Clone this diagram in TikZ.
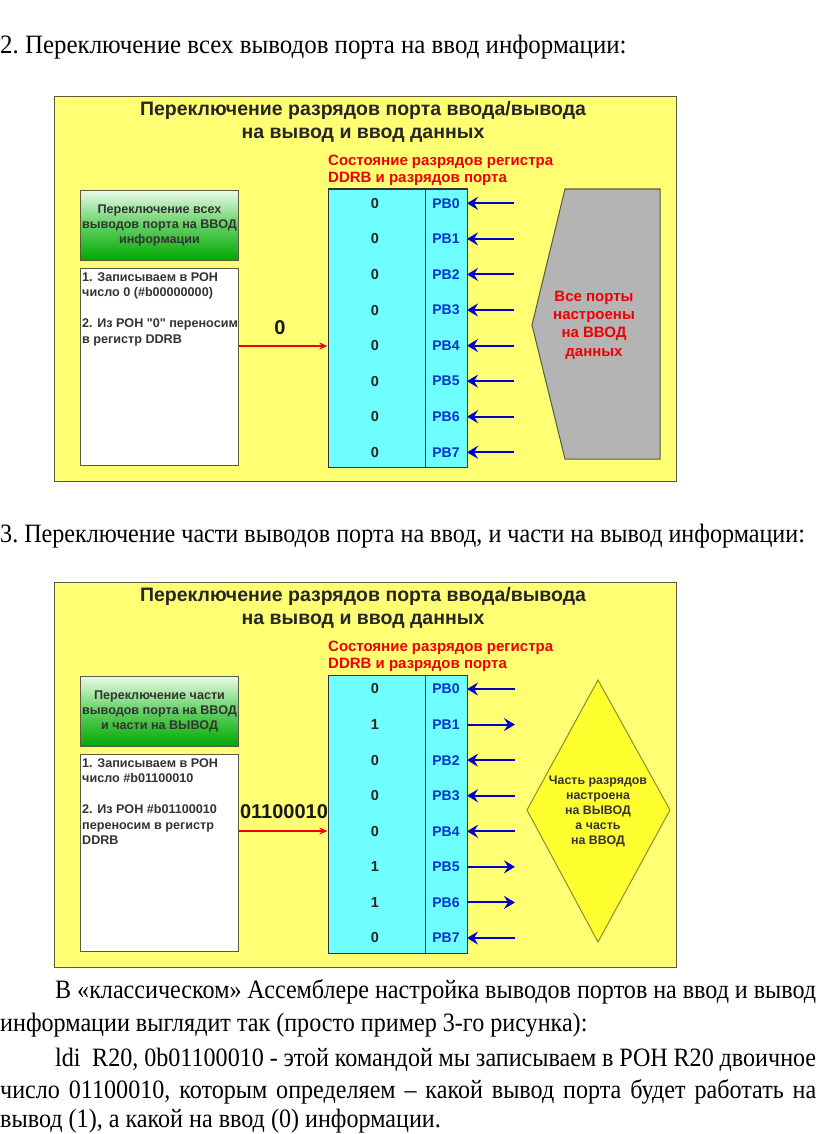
\documentclass[tikz,border=0pt]{standalone}
\usepackage{fontspec}
\setmainfont{Liberation Serif}
\newfontfamily\dsans{Liberation Sans}
\newfontfamily\bodyf[FakeStretch=0.94]{Liberation Serif}
\newfontfamily\bodyn[FakeStretch=0.91]{Liberation Serif}
\usetikzlibrary{arrows.meta}
\definecolor{panelY}{HTML}{FFFF73}
\definecolor{panelB}{HTML}{5A5A3C}
\definecolor{cyanR}{HTML}{6FFFFF}
\definecolor{grayH}{HTML}{B4B4B4}
\definecolor{arrB}{HTML}{0000CC}
\definecolor{pbB}{HTML}{0033CC}
\definecolor{redT}{HTML}{F00000}
\definecolor{greenTop}{HTML}{EAFBEA}
\definecolor{greenMid}{HTML}{60D060}
\definecolor{greenBot}{HTML}{00A800}
\definecolor{darkT}{HTML}{333333}
\definecolor{diaY}{HTML}{FFFF30}
\definecolor{diaB}{HTML}{8C8C30}
\tikzset{
  panelbox/.style={draw=panelB, line width=1.3pt, fill=panelY, inner sep=0pt, anchor=north west, minimum width=622pt, minimum height=385pt},
  titlef/.style={font=\dsans\bfseries\fontsize{19.5}{23}\selectfont, text=black!85, align=center, inner sep=0pt},
  redlab/.style={font=\dsans\bfseries\fontsize{15}{17}\selectfont, text=redT, align=left, inner sep=0pt, anchor=north west},
  greenbox/.style={draw=panelB, line width=1pt, anchor=north west, minimum width=158pt, minimum height=70pt, inner sep=0pt, top color=greenTop, bottom color=greenBot, middle color=greenMid, font=\dsans\bfseries\fontsize{12.6}{15}\selectfont, text=darkT, align=center},
  whitebox/.style={draw=panelB, line width=1pt, fill=white, anchor=north west, minimum width=158pt, minimum height=197pt, inner sep=0pt},
  boxtext/.style={font=\dsans\bfseries\fontsize{12.6}{15.5}\selectfont, text=darkT, align=left, anchor=north west, inner sep=0pt},
  regbox/.style={draw=darkT, line width=1pt, fill=cyanR},
  digit/.style={font=\dsans\bfseries\fontsize{14.5}{16}\selectfont, text=black!85, inner sep=0pt},
  pblab/.style={font=\dsans\bfseries\fontsize{14}{16}\selectfont, text=pbB, inner sep=0pt},
  inarrow/.style={draw=arrB, line width=2pt, -{Stealth[length=11pt,width=13pt,inset=4pt]}},
  redarrow/.style={draw=redT, line width=1.5pt, -{Stealth[length=8pt,width=7pt]}},
  numlab/.style={font=\dsans\bfseries\fontsize{20}{22}\selectfont, text=black!90, inner sep=0pt},
  body/.style={font=\bodyf\fontsize{26.5}{30}\selectfont\frenchspacing, inner sep=0pt, anchor=base west},
  bodyb/.style={font=\bodyn\fontsize{26.5}{30}\selectfont\frenchspacing, inner sep=0pt, anchor=base west},
}
\begin{document}
\begin{tikzpicture}[x=1pt,y=-1pt]
\useasboundingbox (0,0) rectangle (816,1134);
\fill[white] (0,0) rectangle (816,1134);

% ---- body text
\node[body] (l1) at (0,54) {2. Переключение всех выводов порта на ввод информации:};
\node[bodyb] (l2) at (0,542) {3. Переключение части выводов порта на ввод, и части на вывод информации:};
\node[bodyb] (l3) at (55,998) {\makebox[761pt][s]{В «классическом» Ассемблере настройка выводов портов на ввод и вывод}};
\node[bodyb] (l4) at (0,1031) {информации выглядит так (просто пример 3-го рисунка):};
\node[bodyb] (l5) at (55,1066) {\makebox[761pt][s]{ldi\ \ R20, 0b01100010 - этой командой мы записываем в РОН R20 двоичное}};
\node[bodyb] (l6) at (0,1098) {\makebox[816pt][s]{число 01100010, которым определяем – какой вывод порта будет работать на}};
\node[bodyb] (l7) at (0,1127) {вывод (1), а какой на ввод (0) информации.};

% ================= panel 1
\node[panelbox] (p1) at (54,96) {};
\node[titlef] (p1t) at (363,122) {Переключение разрядов порта ввода/вывода\\на вывод и ввод данных};
\node[redlab] (p1r) at (328,155) {Состояние разрядов регистра\\DDRB и разрядов порта};
\node[greenbox] (p1g) at (80,190) {Переключение всех\\выводов порта на ВВОД\\информации};
\node[whitebox] (p1w) at (80,268) {};
\node[boxtext] (p1wt) at (82,272) {1. Записываем в РОН\\число 0 (\#b00000000)\\[15.5pt]2. Из РОН "0" переносим\\в регистр DDRB};
\draw[regbox] (328,189) rectangle (467,467);
\draw[darkT, line width=1pt] (425,189) -- (425,467);
\node[inner sep=0pt] (p1reg) at (328,346) {};
\foreach \i in {0,...,7}{
  \node[digit] (p1d\i) at (375,{203.3+35.57*\i}) {0};
  \node[pblab] (p1pb\i) at (446,{203.3+35.57*\i}) {PB\i};
  \coordinate (p1s\i) at (514,{203.3+35.57*\i});
  \coordinate (p1e\i) at (467,{203.3+35.57*\i});
  \draw[inarrow] (p1s\i) -- (p1e\i);
}
\draw[redarrow] (p1w.east |- p1reg) -- (p1reg);
\node[numlab] (p1n) at (280,328) {0};
\draw[draw=panelB, line width=1pt, fill=grayH] (565,189) -- (660,189) -- (660,459) -- (565,459) -- (532,325) -- cycle;
\node[font=\dsans\bfseries\fontsize{15}{18.3}\selectfont, text=redT, align=center, inner sep=0pt] (p1h) at (594,325) {Все порты\\настроены\\на ВВОД\\данных};

% ================= panel 2
\node[panelbox] (p2) at (54,582) {};
\node[titlef] (p2t) at (363,608) {Переключение разрядов порта ввода/вывода\\на вывод и ввод данных};
\node[redlab] (p2r) at (328,641) {Состояние разрядов регистра\\DDRB и разрядов порта};
\node[greenbox] (p2g) at (80,676) {Переключение части\\выводов порта на ВВОД\\и части на ВЫВОД};
\node[whitebox] (p2w) at (80,754) {};
\node[boxtext] (p2wt) at (82,758) {1. Записываем в РОН\\число \#b01100010\\[15.5pt]2. Из РОН \#b01100010\\переносим в регистр\\DDRB};
\draw[regbox] (328,675) rectangle (467,953);
\draw[darkT, line width=1pt] (425,675) -- (425,953);
\node[inner sep=0pt] (p2reg) at (328,831) {};
\foreach \i/\v in {0/0,1/1,2/0,3/0,4/0,5/1,6/1,7/0}{
  \node[digit] (p2d\i) at (375,{689+35.57*\i}) {\v};
  \node[pblab] (p2pb\i) at (446,{689+35.57*\i}) {PB\i};
  \coordinate (p2s\i) at (515,{689+35.57*\i});
  \coordinate (p2e\i) at (467,{689+35.57*\i});
  \ifnum\v=0 \draw[inarrow] (p2s\i) -- (p2e\i); \else \draw[inarrow] (p2e\i) -- (p2s\i); \fi
}
\draw[redarrow] (p2w.east |- p2reg) -- (p2reg);
\node[numlab] (p2n) at (284,812) {01100010};
\draw[draw=diaB, line width=1pt, fill=diaY] (598,680) -- (670,810) -- (598,942) -- (527,810) -- cycle;
\node[font=\dsans\bfseries\fontsize{12.4}{15}\selectfont, text=darkT, align=center, inner sep=0pt] (p2h) at (598,811) {Часть разрядов\\настроена\\на ВЫВОД\\а часть\\на ВВОД};
\end{tikzpicture}
\end{document}
